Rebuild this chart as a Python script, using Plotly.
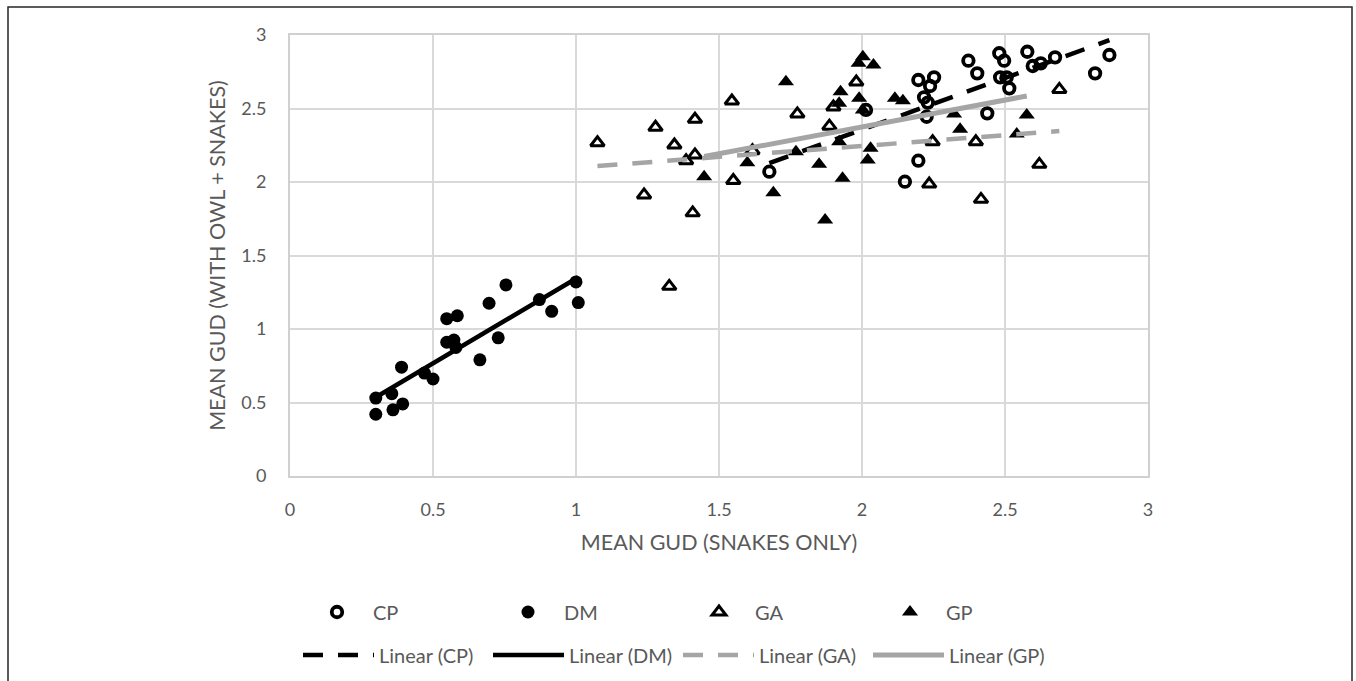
import numpy as np
import plotly.graph_objects as go

# ---- data ----
cp_x = [1.676, 2.014, 2.15, 2.197, 2.197, 2.217, 2.23, 2.226, 2.238, 2.252, 2.372, 2.403,
        2.438, 2.48, 2.497, 2.483, 2.506, 2.515, 2.578, 2.597, 2.625, 2.675, 2.815, 2.865]
cp_y = [2.07, 2.49, 2.002, 2.145, 2.694, 2.576, 2.54, 2.444, 2.653, 2.712, 2.825, 2.739,
        2.467, 2.876, 2.825, 2.712, 2.712, 2.637, 2.886, 2.789, 2.807, 2.848, 2.739, 2.864]

dm_x = [0.30, 0.30, 0.356, 0.36, 0.394, 0.39, 0.47, 0.50, 0.548, 0.585, 0.548, 0.573,
        0.58, 0.664, 0.696, 0.728, 0.755, 0.872, 0.915, 1.0, 1.008]
dm_y = [0.53, 0.42, 0.56, 0.45, 0.49, 0.74, 0.70, 0.66, 1.07, 1.09, 0.91, 0.925,
        0.875, 0.79, 1.175, 0.94, 1.30, 1.20, 1.12, 1.32, 1.18]

ga_x = [1.075, 1.238, 1.278, 1.326, 1.344, 1.385, 1.408, 1.416, 1.416, 1.545, 1.55, 1.617,
        1.774, 1.886, 1.90, 1.98, 2.235, 2.247, 2.398, 2.416, 2.62, 2.69]
ga_y = [2.267, 1.912, 2.372, 1.29, 2.252, 2.145, 1.79, 2.427, 2.184, 2.551, 2.01, 2.213,
        2.463, 2.38, 2.51, 2.68, 1.986, 2.274, 2.274, 1.882, 2.12, 2.63]

gp_x = [1.448, 1.599, 1.769, 1.69, 1.734, 1.85, 1.871, 1.932, 1.92, 1.925, 1.92, 1.99,
        2.003, 1.988, 2.003, 2.03, 2.02, 2.04, 2.115, 2.143, 2.322, 2.343, 2.576, 2.541]
gp_y = [2.036, 2.131, 2.206, 1.927, 2.682, 2.12, 1.741, 2.025, 2.274, 2.614, 2.535, 2.569,
        2.852, 2.807, 2.49, 2.23, 2.15, 2.796, 2.569, 2.553, 2.463, 2.358, 2.456, 2.327]

series_names = ["CP", "DM", "GA", "GP"]
x_ticks = [0, 0.5, 1, 1.5, 2, 2.5, 3]
y_ticks = [0, 0.5, 1, 1.5, 2, 2.5, 3]

TXT = "#595959"
FONT = "Lato"

fig = go.Figure()

marker_styles = {
    "CP": dict(symbol="circle-open", size=10.5, color="black", line=dict(width=3.8, color="black")),
    "DM": dict(symbol="circle", size=13, color="black", line=dict(width=0)),
    "GA": dict(symbol="triangle-up-open", size=12, color="black", line=dict(width=3, color="black")),
    "GP": dict(symbol="triangle-up", size=14, color="black", line=dict(width=0)),
}
data = {"CP": (cp_x, cp_y), "DM": (dm_x, dm_y), "GA": (ga_x, ga_y), "GP": (gp_x, gp_y)}

for name in series_names:
    xs, ys = data[name]
    fig.add_trace(go.Scatter(x=xs, y=ys, mode="markers", name=name,
                             marker=marker_styles[name], legend="legend"))

line_styles = {
    "CP": dict(color="black", width=4.5, dash="20px,15px"),
    "DM": dict(color="black", width=4.5),
    "GA": dict(color="#a5a5a5", width=4.5, dash="20px,15px"),
    "GP": dict(color="#a5a5a5", width=5),
}
for name in series_names:
    xs, ys = data[name]
    k, b = np.polyfit(xs, ys, 1)
    xe = np.array([min(xs), max(xs)])
    fig.add_trace(go.Scatter(x=xe, y=k * xe + b, mode="lines", name=f"Linear ({name})",
                             line=line_styles[name], legend="legend2"))

W, H = 1356, 681
L, R, T, B = 290, 1148, 35, 476

axis_common = dict(
    range=[0, 3], dtick=0.5, tick0=0,
    showgrid=True, gridcolor="#d9d9d9", gridwidth=1.5,
    showline=True, linecolor="#d0d0d0", linewidth=2, mirror=True,
    zeroline=False, ticks="",
    tickfont=dict(family=FONT, size=18, color=TXT),
)

LEG_FONT = dict(family=FONT, size=20, color=TXT)

fig.update_layout(
    width=W, height=H,
    margin=dict(l=L, r=W - R, t=T, b=H - B, autoexpand=False),
    paper_bgcolor="white", plot_bgcolor="white",
    font=dict(family=FONT, color=TXT),
    xaxis=dict(**axis_common, tickvals=x_ticks, ticklabelstandoff=16,
               title=dict(text="MEAN GUD (SNAKES ONLY)", font=dict(family=FONT, size=21.5, color=TXT),
                          standoff=16)),
    yaxis=dict(**axis_common, tickvals=y_ticks, ticklabelstandoff=18,
               title=dict(text="MEAN GUD (WITH OWL + SNAKES)", font=dict(family=FONT, size=21.5, color=TXT),
                          standoff=10)),
    legend=dict(orientation="h", xref="container", yref="container",
                x=301 / W, y=1 - 612 / H, xanchor="left", yanchor="middle",
                itemwidth=62, entrywidth=114, entrywidthmode="pixels",
                font=LEG_FONT, bgcolor="rgba(0,0,0,0)"),
    legend2=dict(orientation="h", xref="container", yref="container",
                 x=298 / W, y=1 - 655 / H, xanchor="left", yanchor="middle",
                 itemwidth=71, entrywidth=104, entrywidthmode="pixels",
                 font=LEG_FONT, bgcolor="rgba(0,0,0,0)"),
    showlegend=True,
)

# outer chart border
pw, ph = R - L, B - T
fig.add_shape(type="rect", xref="paper", yref="paper",
              x0=(8 - L) / pw, x1=(1352 - L) / pw,
              y0=(B - 684) / ph, y1=(B - 7) / ph,
              line=dict(color="#262626", width=1.5), fillcolor="rgba(0,0,0,0)", layer="below")

fig.write_html("out.html", config={"displayModeBar": False},
               post_script="document.body.style.margin='0';")
